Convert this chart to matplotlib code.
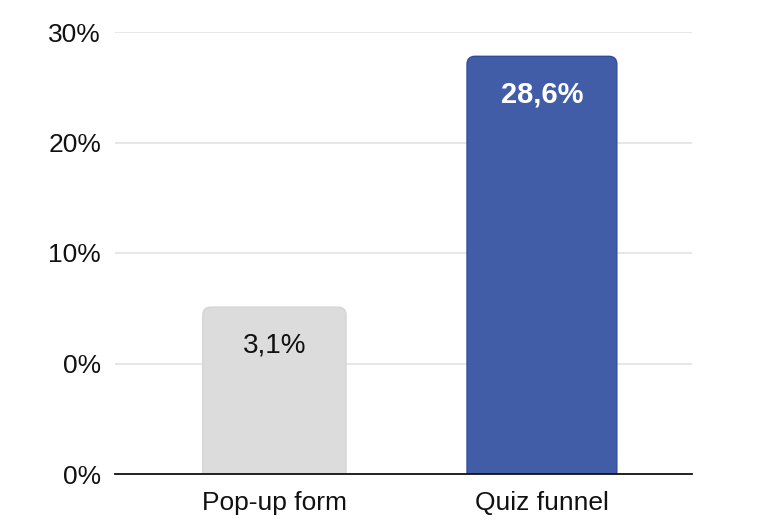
import matplotlib.pyplot as plt
from matplotlib.patches import FancyBboxPatch

categories = ['Pop-up form', 'Quiz funnel']
bar_heights = [15.1, 37.8]
value_labels = ['3,1%', '28,6%']
tick_values = [0, 10, 20, 30, 40]
tick_labels = ['0%', '0%', '10%', '20%', '30%']

colors = ['#dcdcdc', '#415da7']
edges = ['#d4d4d4', '#2f4c9c']
text_colors = ['#111111', 'white']

plt.rcParams['font.family'] = ['Liberation Sans', 'DejaVu Sans']

fig = plt.figure(figsize=(7.82, 5.25), dpi=100)
ax = fig.add_axes([115 / 782, 1 - 474 / 525, 577 / 782, 442 / 525])

ax.set_xlim(-0.596, 1.561)
ax.set_ylim(0, 40)

widths = [0.535, 0.56]
label_sizes = [20, 21]
for i, (h, lab) in enumerate(zip(bar_heights, value_labels)):
    w = widths[i]
    patch = FancyBboxPatch((i - w / 2, -2), w, h + 2,
                           boxstyle='round,pad=0,rounding_size=0.03',
                           mutation_aspect=24, facecolor=colors[i],
                           edgecolor=edges[i], linewidth=1, zorder=3)
    patch.set_clip_on(True)
    ax.add_patch(patch)
    ax.text(i, h - 3.5, lab, ha='center', va='center', fontsize=label_sizes[i],
            fontweight='bold' if i == 1 else 'medium', color=text_colors[i], zorder=4)

ax.set_yticks(tick_values)
ax.set_yticklabels(tick_labels, fontsize=19, color='#111111')
ax.set_xticks([0, 1])
ax.set_xticklabels(categories, fontsize=19, color='#111111')
ax.tick_params(axis='both', length=0)
ax.tick_params(axis='y', pad=10)
ax.tick_params(axis='x', pad=12)

ax.grid(axis='y', color='#e3e3e3', linewidth=1.2, zorder=0)
for s in ['top', 'right', 'left']:
    ax.spines[s].set_visible(False)
ax.spines['bottom'].set_color('#111111')
ax.spines['bottom'].set_linewidth(1.3)
ax.spines['bottom'].set_zorder(5)

fig.savefig('out.png', dpi=100)
